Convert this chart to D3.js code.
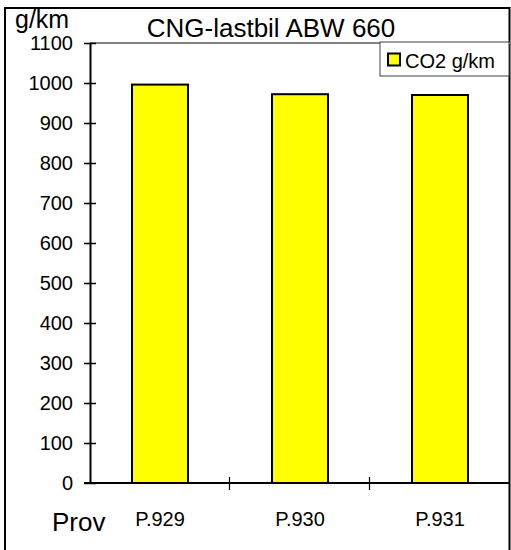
<!DOCTYPE html>
<html lang="sv">
<head>
    <meta charset="UTF-8">
    <title>CNG-lastbil ABW 660</title>
    <script src="https://d3js.org/d3.v7.min.js"></script>
    <style>
        body { margin: 0; background: #fff; }
        svg text { font-family: Arial, "Liberation Sans", sans-serif; fill: #000; }
    </style>
</head>
<body>
    <svg id="chart" width="511" height="550"></svg>

    <script>
        // data
        var categories = ["P.929", "P.930", "P.931"];
        var co2Values = [996, 972, 970];
        var yTicks = [0, 100, 200, 300, 400, 500, 600, 700, 800, 900, 1000, 1100];
        var seriesName = "CO2 g/km";

        var plot = {left: 90, right: 510, top: 43, bottom: 483};

        var svg = d3.select("#chart");

        // outer frame (bottom runs off the picture)
        svg.append("path")
            .attr("d", "M5,560 V8 H509.5 V560")
            .attr("fill", "none")
            .attr("stroke", "#000")
            .attr("stroke-width", 2);

        var x = d3.scaleBand()
            .domain(categories)
            .range([plot.left, plot.right])
            .paddingInner(0.6)
            .paddingOuter(0.3);

        var y = d3.scaleLinear()
            .domain([0, 1100])
            .range([plot.bottom, plot.top]);

        // plot area top edge (grey)
        svg.append("line")
            .attr("x1", plot.left).attr("x2", plot.right)
            .attr("y1", y(1100)).attr("y2", y(1100))
            .attr("stroke", "#808080")
            .attr("stroke-width", 2);

        // bars
        svg.selectAll(".bar")
            .data(co2Values)
            .enter().append("rect")
            .attr("class", "bar")
            .attr("x", function(d, i) { return x(categories[i]); })
            .attr("y", function(d) { return y(d); })
            .attr("width", x.bandwidth())
            .attr("height", function(d) { return y(0) - y(d); })
            .attr("fill", "#ffff00")
            .attr("stroke", "#000")
            .attr("stroke-width", 2);

        // y axis
        var yAxis = d3.axisLeft(y)
            .tickValues(yTicks)
            .tickFormat(d3.format("d"))
            .tickSizeInner(6)
            .tickSizeOuter(0)
            .tickPadding(11);
        var gy = svg.append("g")
            .attr("transform", "translate(" + plot.left + ",0)")
            .call(yAxis);
        gy.select(".domain").attr("stroke", "#000").attr("stroke-width", 2);
        gy.selectAll(".tick line")
            .attr("x1", -6).attr("x2", 6)
            .attr("stroke-width", 1.5);
        gy.selectAll(".tick text")
            .attr("font-size", 20)
            .attr("font-family", "Arial, 'Liberation Sans', sans-serif");

        // x axis line + separators between categories
        var step = x.step();
        svg.append("line")
            .attr("x1", plot.left - 6).attr("x2", plot.right)
            .attr("y1", y(0)).attr("y2", y(0))
            .attr("stroke", "#000")
            .attr("stroke-width", 2);
        svg.selectAll(".xsep")
            .data(categories.slice(1))
            .enter().append("line")
            .attr("class", "xsep")
            .attr("x1", function(d) { return x(d) - x.paddingInner() * step / 2 - 0.5; })
            .attr("x2", function(d) { return x(d) - x.paddingInner() * step / 2 - 0.5; })
            .attr("y1", y(0) - 6).attr("y2", y(0) + 7)
            .attr("stroke", "#000")
            .attr("stroke-width", 1.2);

        // category labels
        svg.selectAll(".xlabel")
            .data(categories)
            .enter().append("text")
            .attr("class", "xlabel")
            .attr("x", function(d) { return x(d) + x.bandwidth() / 2; })
            .attr("y", 526)
            .attr("text-anchor", "middle")
            .attr("font-size", 20)
            .text(function(d) { return d; });

        // titles
        svg.append("text")
            .attr("x", 271).attr("y", 37)
            .attr("text-anchor", "middle")
            .attr("font-size", 26)
            .text("CNG-lastbil ABW 660");
        svg.append("text")
            .attr("x", 15).attr("y", 28)
            .attr("font-size", 25)
            .text("g/km");
        svg.append("text")
            .attr("x", 52).attr("y", 531)
            .attr("font-size", 26)
            .text("Prov");

        // legend
        var legend = svg.append("g").attr("transform", "translate(380,42)");
        legend.append("rect")
            .attr("x", 0).attr("y", 0)
            .attr("width", 129).attr("height", 34)
            .attr("fill", "#fff")
            .attr("stroke", "#404040")
            .attr("stroke-width", 1);
        legend.append("rect")
            .attr("x", 8).attr("y", 11.5)
            .attr("width", 12).attr("height", 12)
            .attr("fill", "#ffff00")
            .attr("stroke", "#000")
            .attr("stroke-width", 2);
        legend.append("text")
            .attr("x", 25).attr("y", 26)
            .attr("font-size", 20)
            .text(seriesName);
    </script>
</body>
</html>
